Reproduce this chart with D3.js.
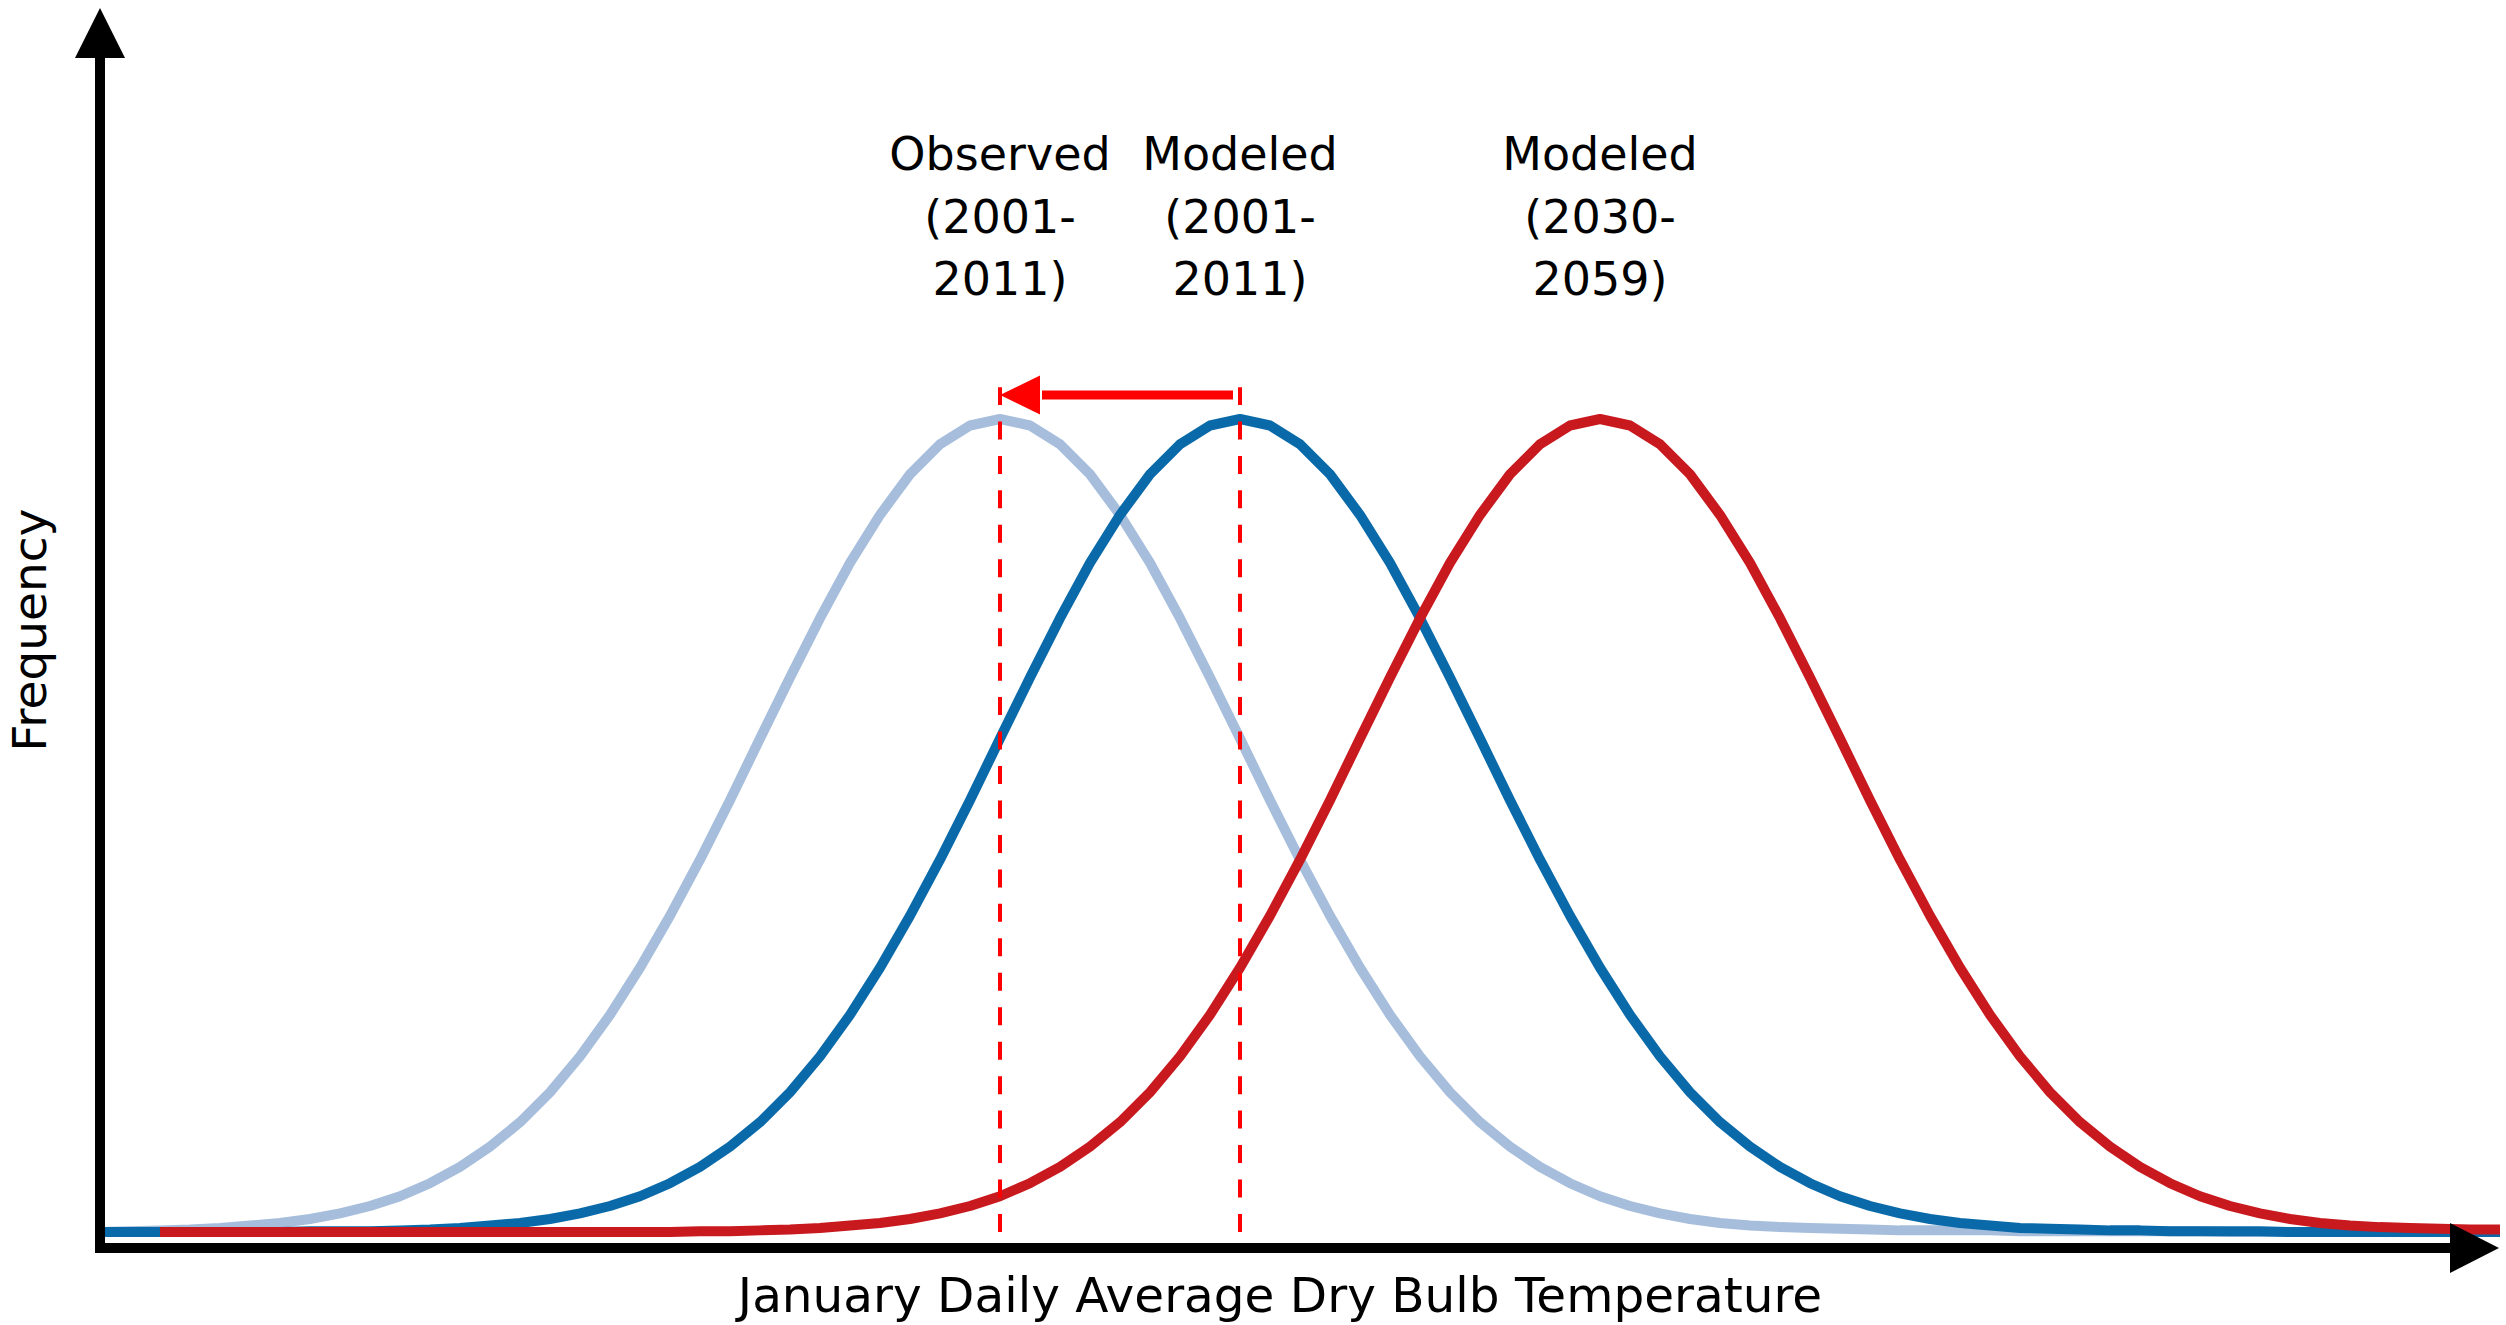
<!DOCTYPE html>
<html>
<head>
<meta charset="utf-8">
<script src="https://cdn.jsdelivr.net/npm/d3@7/dist/d3.min.js"></script>
<style>
  html, body { margin: 0; padding: 0; background: #ffffff; }
  svg { display: block; }
  text { font-family: "DejaVu Sans", Verdana, sans-serif; fill: #000; }
</style>
</head>
<body>
<svg id="chart" width="2506" height="1325"></svg>
<script>
// ---- Data (conceptual temperature grid, relative frequency) ----
const temps = [
  0, 0.25, 0.5, 0.75, 1, 1.25, 1.5, 1.75, 2, 2.25, 2.5, 2.75, 3, 3.25, 3.5, 3.75,
  4, 4.25, 4.5, 4.75, 5, 5.25, 5.5, 5.75, 6, 6.25, 6.5, 6.75, 7, 7.25, 7.5, 7.75,
  8, 8.25, 8.5, 8.75, 9, 9.25, 9.5, 9.75, 10, 10.25, 10.5, 10.75, 11, 11.25, 11.5, 11.75,
  12, 12.25, 12.5, 12.75, 13, 13.25, 13.5, 13.75, 14, 14.25, 14.5, 14.75, 15, 15.25, 15.5, 15.75,
  16, 16.25, 16.5, 16.75, 17, 17.25, 17.5, 17.75, 18, 18.25, 18.5, 18.75, 19, 19.25, 19.5, 19.75, 20
];

const observed2001 = [
  0.000, 0.001, 0.002, 0.003, 0.005, 0.008, 0.011, 0.016, 0.023, 0.032, 0.044, 0.060, 0.080, 0.105, 0.135, 0.172,
  0.216, 0.267, 0.325, 0.389, 0.458, 0.531, 0.607, 0.682, 0.755, 0.823, 0.882, 0.932, 0.969, 0.992, 1.000, 0.992,
  0.969, 0.932, 0.882, 0.823, 0.755, 0.682, 0.607, 0.531, 0.458, 0.389, 0.325, 0.267, 0.216, 0.172, 0.135, 0.105,
  0.080, 0.060, 0.044, 0.032, 0.023, 0.016, 0.011, 0.008, 0.006, 0.005, 0.004, 0.003, 0.002, 0.002, 0.002, 0.002,
  0.001, 0.001, 0.001, 0.001, 0.001, 0.001, 0.001, 0.000, 0.000, 0.000, 0.000, 0.000, 0.000, 0.000, 0.000, 0.000, 0.000
];

const modeled2001 = [
  0.000, 0.000, 0.000, 0.000, 0.000, 0.000, 0.000, 0.001, 0.001, 0.001, 0.002, 0.003, 0.005, 0.008, 0.011, 0.016,
  0.023, 0.032, 0.044, 0.060, 0.080, 0.105, 0.135, 0.172, 0.216, 0.267, 0.325, 0.389, 0.458, 0.531, 0.607, 0.682,
  0.755, 0.823, 0.882, 0.932, 0.969, 0.992, 1.000, 0.992, 0.969, 0.932, 0.882, 0.823, 0.755, 0.682, 0.607, 0.531,
  0.458, 0.389, 0.325, 0.267, 0.216, 0.172, 0.135, 0.105, 0.080, 0.060, 0.044, 0.032, 0.023, 0.016, 0.011, 0.008,
  0.005, 0.004, 0.003, 0.002, 0.002, 0.001, 0.001, 0.001, 0.001, 0.000, 0.000, 0.000, 0.000, 0.000, 0.000, 0.000, 0.000
];

const modeled2030 = [
  null, null, 0.000, 0.000, 0.000, 0.000, 0.000, 0.000, 0.000, 0.000, 0.000, 0.000, 0.000, 0.000, 0.000, 0.000,
  0.000, 0.000, 0.000, 0.000, 0.001, 0.001, 0.002, 0.003, 0.005, 0.008, 0.011, 0.016, 0.023, 0.032, 0.044, 0.060,
  0.080, 0.105, 0.135, 0.172, 0.216, 0.267, 0.325, 0.389, 0.458, 0.531, 0.607, 0.682, 0.755, 0.823, 0.882, 0.932,
  0.969, 0.992, 1.000, 0.992, 0.969, 0.932, 0.882, 0.823, 0.755, 0.682, 0.607, 0.531, 0.458, 0.389, 0.325, 0.267,
  0.216, 0.172, 0.135, 0.105, 0.080, 0.060, 0.044, 0.032, 0.023, 0.016, 0.011, 0.008, 0.006, 0.005, 0.004, 0.003, 0.003
];

const seriesNames = ["Observed 2001-2011", "Modeled 2001-2011", "Modeled 2030-2059"];
const seriesColors = ["#a6bedc", "#0a6aa9", "#c8191f"];
const labelLines = [
  ["Observed", "(2001-", "2011)"],
  ["Modeled", "(2001-", "2011)"],
  ["Modeled", "(2030-", "2059)"]
];
const xAxisTitle = "January Daily Average Dry Bulb Temperature";
const yAxisTitle = "Frequency";

// ---- Layout ----
const svg = d3.select("#chart");
svg.append("rect").attr("width", 2506).attr("height", 1325).attr("fill", "#fff");

const x = d3.scaleLinear().domain([0, 20]).range([100, 2500]);
const y = d3.scaleLinear().domain([0, 1]).range([1232, 419]);

const series = [observed2001, modeled2001, modeled2030];

const line = d3.line()
  .defined(d => d.v !== null)
  .x(d => x(d.t))
  .y(d => y(d.v))
  .curve(d3.curveLinear);

const curvesG = svg.append("g");
series.forEach((vals, si) => {
  const pts = temps.map((t, i) => ({ t: t, v: vals[i] }));
  curvesG.append("path")
    .datum(pts)
    .attr("d", line)
    .attr("fill", "none")
    .attr("stroke", seriesColors[si])
    .attr("stroke-width", 10)
    .attr("stroke-linejoin", "round");
});

// peak temperatures from the data
const peakT = series.map(vals => temps[d3.maxIndex(vals, v => v === null ? -1 : v)]);

// dashed lines at observed and modeled historic peaks (drawn from bottom up)
const annG = svg.append("g");
[peakT[0], peakT[1]].forEach(t => {
  annG.append("line")
    .attr("x1", x(t)).attr("x2", x(t))
    .attr("y1", y(0)).attr("y2", y(1.039))
    .attr("stroke", "#ff0000")
    .attr("stroke-width", 4)
    .attr("stroke-dasharray", "18,16.46");
});

// shift arrow from modeled peak to observed peak
const arrowY = y(1.0295);
const tipX = x(peakT[0]);
const headBase = tipX + 40;
annG.append("line")
  .attr("x1", x(peakT[1]) - 7).attr("x2", headBase + 2)
  .attr("y1", arrowY).attr("y2", arrowY)
  .attr("stroke", "#ff0000").attr("stroke-width", 9);
annG.append("path")
  .attr("d", `M${tipX},${arrowY} L${headBase},${arrowY - 19.5} L${headBase},${arrowY + 19.5} Z`)
  .attr("fill", "#ff0000");

// curve labels
const labelG = svg.append("g");
labelLines.forEach((lines, si) => {
  const tx = labelG.append("text")
    .attr("text-anchor", "middle")
    .attr("font-size", 46)
    .attr("x", x(peakT[si]))
    .attr("y", 170);
  lines.forEach((ln, li) => {
    tx.append("tspan")
      .attr("x", x(peakT[si]))
      .attr("dy", li === 0 ? 0 : 62.5)
      .text(ln);
  });
});

// ---- Axes with arrowheads ----
const axG = svg.append("g");
// y axis
axG.append("line")
  .attr("x1", 100).attr("x2", 100)
  .attr("y1", 55).attr("y2", 1253)
  .attr("stroke", "#000").attr("stroke-width", 10);
axG.append("path")
  .attr("d", "M100,8 L125,58 L75,58 Z")
  .attr("fill", "#000");
// x axis
axG.append("line")
  .attr("x1", 95).attr("x2", 2453)
  .attr("y1", 1248).attr("y2", 1248)
  .attr("stroke", "#000").attr("stroke-width", 10);
axG.append("path")
  .attr("d", "M2499,1248 L2450,1223 L2450,1273 Z")
  .attr("fill", "#000");

// axis titles
svg.append("text")
  .attr("text-anchor", "middle")
  .attr("font-size", 48.5)
  .attr("x", 1280)
  .attr("y", 1312)
  .text(xAxisTitle);

svg.append("text")
  .attr("text-anchor", "middle")
  .attr("font-size", 47)
  .attr("transform", "translate(46,630) rotate(-90)")
  .text(yAxisTitle);
</script>
</body>
</html>
